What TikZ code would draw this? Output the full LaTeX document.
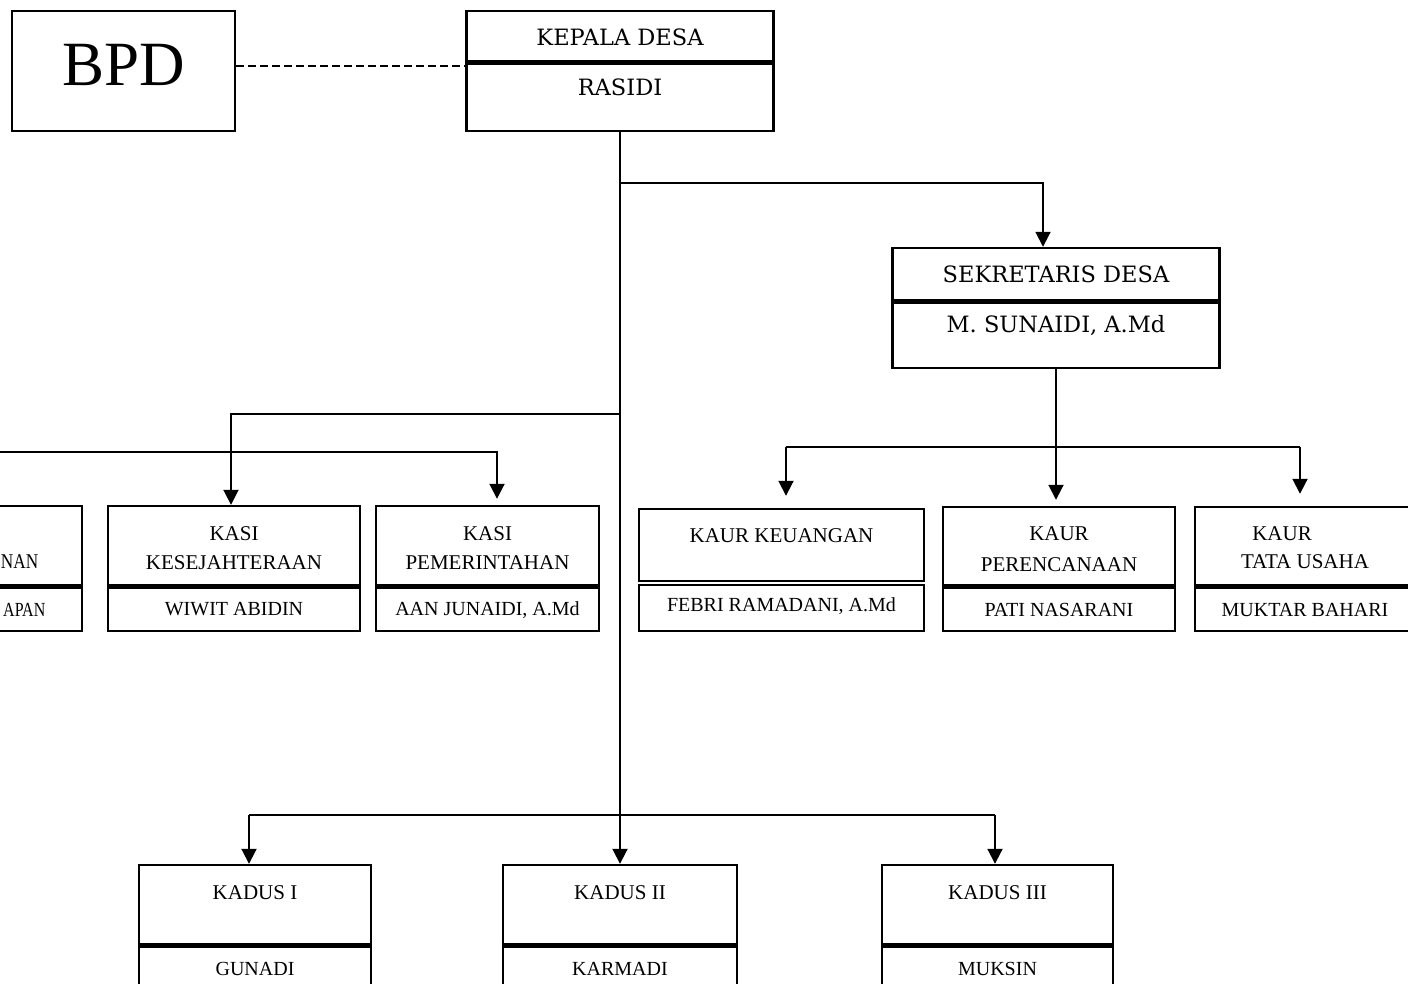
\documentclass[tikz,border=0pt]{standalone}
\usepackage{fontspec}
\usepackage{tikz}
\usetikzlibrary{arrows.meta}
\newfontfamily\cambria{Liberation Serif}
\newfontfamily\bookman{DejaVu Serif}

\begin{document}
\begin{tikzpicture}[x=1pt,y=-1pt,
  kotak/.style={draw,rectangle,line width=2.4pt,inner sep=0pt},
  sekat/.style={line width=5pt},
  garis/.style={line width=1.9pt},
  panah/.style={garis,-{Triangle[length=15pt,width=15pt]}},
  judul/.style={font=\cambria\fontsize{21}{25}\selectfont,inner sep=0pt,text height=14pt,text depth=0pt},
  nama/.style={font=\cambria\fontsize{20}{24}\selectfont,inner sep=0pt,text height=13.2pt,text depth=0pt},
  judulb/.style={font=\bookman\fontsize{22.5}{27}\selectfont,inner sep=0pt,text height=16.4pt,text depth=0pt}]
\useasboundingbox (0,0) rectangle (1408,984);
\clip (0,0) rectangle (1408,984);

% BPD
\node[kotak,minimum width=223,minimum height=120] (bpd) at (123.5,71) {};
\node[font=\cambria\fontsize{63}{70}\selectfont,inner sep=0pt,text height=42pt,text depth=0pt] (bpdlbl) at (124,64.5) {BPD};

% kepala desa
\node[kotak,minimum width=307,minimum height=50] (kdtop) at (620,36) {};
\node[kotak,minimum width=307,minimum height=70] (kdbot) at (620,96) {};
\draw[sekat] (kdtop.south west) -- (kdtop.south east);
\node[judulb] (kdjab) at (620,37) {KEPALA DESA};
\node[judulb] (kdnm) at (620,87.5) {RASIDI};
\draw[line width=1.5pt,dash pattern=on 8pt off 4pt] ([yshift=5pt]bpd.east) -- ([yshift=5pt]bpd.east -| kdtop.west);

% sekretaris desa
\node[kotak,minimum width=327,minimum height=52] (sektop) at (1056,274) {};
\node[kotak,minimum width=327,minimum height=68] (sekbot) at (1056,334) {};
\draw[sekat] (sektop.south west) -- (sektop.south east);
\node[judulb] (sekjab) at (1056,274) {SEKRETARIS DESA};
\node[judulb] (seknm) at (1056,324.5) {M. SUNAIDI, A.Md};

% kasi
\node[kotak,minimum width=212,minimum height=79] (kptop) at (-24,545.5) {};
\node[kotak,minimum width=212,minimum height=46] (kpbot) at (-24,608) {};
\draw[sekat] (kptop.south west) -- (kptop.south east);
\node[judul,anchor=east] (kpjab) at (38.5,561) {\scalebox{0.82}[1]{NAN}};
\node[nama,anchor=east] (kpnm) at (45.5,610) {\scalebox{0.8}[1]{APAN}};

\node[kotak,minimum width=252,minimum height=79] (kstop) at (234,545.5) {};
\node[kotak,minimum width=252,minimum height=46] (ksbot) at (234,608) {};
\draw[sekat] (kstop.south west) -- (kstop.south east);
\node[judul] (ksjab1) at (234,533.5) {KASI};
\node[judul] (ksjab2) at (234,562) {KESEJAHTERAAN};
\node[nama] (ksnm) at (234,608.5) {WIWIT ABIDIN};

\node[kotak,minimum width=223,minimum height=79] (pmtop) at (487.5,545.5) {};
\node[kotak,minimum width=223,minimum height=46] (pmbot) at (487.5,608) {};
\draw[sekat] (pmtop.south west) -- (pmtop.south east);
\node[judul] (pmjab1) at (487.5,533.5) {KASI};
\node[judul] (pmjab2) at (487.5,562) {PEMERINTAHAN};
\node[nama] (pmnm) at (487.5,608.5) {AAN JUNAIDI, A.Md};

% kaur
\node[kotak,minimum width=285,minimum height=72] (kktop) at (781.5,545) {};
\node[kotak,minimum width=285,minimum height=46] (kkbot) at (781.5,608) {};
\node[judul] (kkjab) at (781.5,535) {KAUR KEUANGAN};
\node[nama] (kknm) at (781.5,605) {FEBRI RAMADANI, A.Md};

\node[kotak,minimum width=232,minimum height=78] (prtop) at (1059,546) {};
\node[kotak,minimum width=232,minimum height=46] (prbot) at (1059,608) {};
\draw[sekat] (prtop.south west) -- (prtop.south east);
\node[judul] (prjab1) at (1059,533) {KAUR};
\node[judul] (prjab2) at (1059,564.5) {PERENCANAAN};
\node[nama] (prnm) at (1059,610) {PATI NASARANI};

\node[kotak,minimum width=230,minimum height=78] (tutop) at (1310,546) {};
\node[kotak,minimum width=230,minimum height=46] (tubot) at (1310,608) {};
\draw[sekat] (tutop.south west) -- (tutop.south east);
\node[judul] (tujab1) at (1282,533) {KAUR};
\node[judul] (tujab2) at (1305,561) {TATA USAHA};
\node[nama] (tunm) at (1305,610) {MUKTAR BAHARI};

% kadus
\node[kotak,minimum width=232,minimum height=79] (kd1top) at (255,904.5) {};
\node[kotak,minimum width=232,minimum height=70] (kd1bot) at (255,979) {};
\draw[sekat] (kd1top.south west) -- (kd1top.south east);
\node[judul] (kd1jab) at (255,892) {KADUS I};
\node[nama] (kd1nm) at (255,969) {GUNADI};

\node[kotak,minimum width=234,minimum height=79] (kd2top) at (620,904.5) {};
\node[kotak,minimum width=234,minimum height=70] (kd2bot) at (620,979) {};
\draw[sekat] (kd2top.south west) -- (kd2top.south east);
\node[judul] (kd2jab) at (620,892) {KADUS II};
\node[nama] (kd2nm) at (620,969) {KARMADI};

\node[kotak,minimum width=231,minimum height=79] (kd3top) at (997.5,904.5) {};
\node[kotak,minimum width=231,minimum height=70] (kd3bot) at (997.5,979) {};
\draw[sekat] (kd3top.south west) -- (kd3top.south east);
\node[judul] (kd3jab) at (997.5,892) {KADUS III};
\node[nama] (kd3nm) at (997.5,969) {MUKSIN};

% garis komando
\coordinate (cabsek) at (620,183);
\coordinate (cabkasi) at (620,414);
\coordinate (cabpm) at (-10,452);
\coordinate (kaurkiri) at (786,447);
\coordinate (kaurkanan) at (1300,447);
\coordinate (kaduskiri) at (249,815);
\coordinate (kaduskanan) at (995,815);

\draw[panah] (kdbot.south) -- (kd2top.north);
\draw[panah] (cabsek) -| ([xshift=-13pt]sektop.north);
\draw[panah,shorten >=6pt] (sekbot.south) -- (sekbot.south |- prtop.north);
\draw[garis] (kaurkiri) -- (kaurkanan);
\draw[panah,shorten >=12pt] (kaurkiri) -- (kaurkiri |- kktop.north);
\draw[panah,shorten >=12pt] (kaurkanan) -- (kaurkanan |- tutop.north);
\draw[panah] (cabkasi) -| ([xshift=-3pt]kstop.north);
\draw[panah,shorten >=6pt] (cabpm) -| ([xshift=9.5pt]pmtop.north);
\draw[garis] (kaduskiri) -- (kaduskanan);
\draw[panah] (kaduskiri) -- (kaduskiri |- kd1top.north);
\draw[panah] (kaduskanan) -- (kaduskanan |- kd3top.north);
\end{tikzpicture}
\end{document}
